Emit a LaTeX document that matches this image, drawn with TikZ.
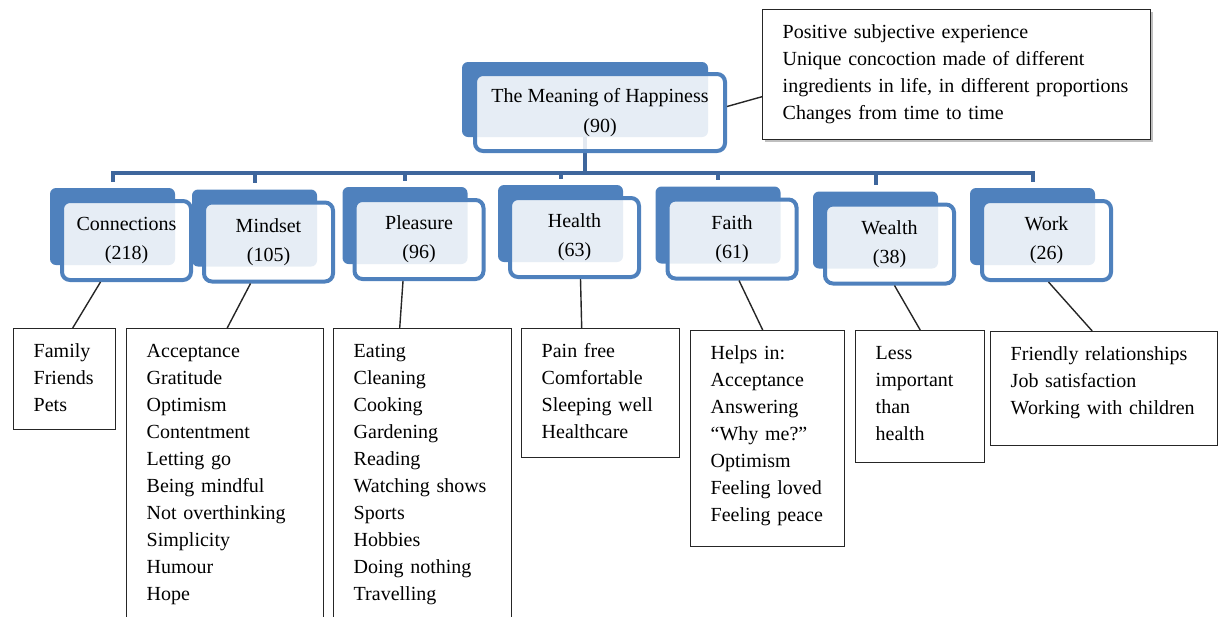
\documentclass[tikz,border=0pt]{standalone}
\usepackage{fontspec}
\setmainfont{Liberation Serif}
\usetikzlibrary{positioning,shadows}
\definecolor{ofblue}{RGB}{79,129,189}
\definecolor{busblue}{RGB}{62,102,156}
\hyphenpenalty=10000

\begin{document}
\begin{tikzpicture}[x=0.5pt,y=-0.5pt,
	backbox/.style={fill=ofblue, rounded corners=3pt, inner sep=0pt,
	minimum width=62.5pt, minimum height=38.5pt},
	frontbox/.style={draw=ofblue, line width=2pt, fill=white, fill opacity=0.86,
	text opacity=1, rounded corners=4pt, align=center, inner sep=0pt,
	minimum width=64.5pt, minimum height=39.5pt,
	font=\fontsize{10pt}{14.5pt}\selectfont},
	leafbox/.style={draw=black!85, line width=0.7pt, fill=white, align=left,
	anchor=north west, inner xsep=10pt, inner ysep=6pt, text height=8.5pt,
	font=\fontsize{10pt}{13.5pt}\selectfont},
	bus/.style={draw=busblue, line width=2pt},
	link/.style={draw=black!85, line width=0.7pt}
	]
	\useasboundingbox (0,0) rectangle (1218,616);
	\clip (0,0) rectangle (1218,616);
	
	% back plates
	\node[backbox, minimum width=123pt, minimum height=37.5pt] (rb) at (585,99.5) {};
	\node[backbox] (cb) at (112.5,226.5) {};
	\node[backbox] (mb) at (254.5,228) {};
	\node[backbox] (pb) at (405,225.5) {};
	\node[backbox] (hb) at (560.5,223.5) {};
	\node[backbox] (fb) at (718,225) {};
	\node[backbox] (wb) at (875.5,230) {};
	\node[backbox] (kb) at (1032.5,226.5) {};
	
	\draw[bus] (rb.south) -- ++(0,36) coordinate (hub);
	\foreach \b in {cb,mb,pb,hb,fb,wb,kb}
		\draw[bus, shorten >=3pt] (hub) -| (\b.north);
	
	% front boxes
	\node[frontbox, minimum width=125pt, minimum height=38.5pt,
	font=\fontsize{10pt}{15pt}\selectfont] (root) at ([shift={(15,13)}]rb.center)
	{The Meaning of Happiness\\(90)};
	\node[frontbox] (conn) at ([shift={(14,14)}]cb.center) {Connections\\(218)};
	\node[frontbox] (mind) at ([shift={(14,14)}]mb.center) {Mindset\\(105)};
	\node[frontbox] (pleas) at ([shift={(14,14)}]pb.center) {Pleasure\\(96)};
	\node[frontbox] (health) at ([shift={(14,14)}]hb.center) {Health\\(63)};
	\node[frontbox] (faith) at ([shift={(14,14)}]fb.center) {Faith\\(61)};
	\node[frontbox] (wealth) at ([shift={(14,14)}]wb.center) {Wealth\\(38)};
	\node[frontbox] (work) at ([shift={(14,14)}]kb.center) {Work\\(26)};
	
	% lists
	\node[leafbox, text width=174pt, text depth=44.5pt,
	drop shadow={shadow xshift=1pt, shadow yshift=-1pt, opacity=0.5}] (desc) at (762,9)
	{Positive subjective experience\\Unique concoction made of different\\ingredients in life, in different proportions\\Changes from time to time};
	\node[leafbox, text width=31pt, text depth=30pt] (family) at (13,328)
	{Family\\Friends\\Pets};
	\node[leafbox, text width=78.5pt, text depth=130.5pt] (mindlist) at (126,328)
	{Acceptance\\Gratitude\\Optimism\\Contentment\\Letting go\\Being mindful\\Not overthinking\\Simplicity\\Humour\\Hope};
	\node[leafbox, text width=69pt, text depth=130.5pt] (pleaslist) at (333,328)
	{Eating\\Cleaning\\Cooking\\Gardening\\Reading\\Watching shows\\Sports\\Hobbies\\Doing nothing\\Travelling};
	\node[leafbox, text width=59pt, text depth=44pt] (healthlist) at (521,328)
	{Pain free\\Comfortable\\Sleeping well\\Healthcare};
	\node[leafbox, text width=57pt, text depth=87.5pt] (faithlist) at (690,330)
	{Helps in:\\Acceptance\\Answering\\``Why me?''\\Optimism\\Feeling loved\\Feeling peace};
	\node[leafbox, text width=44.5pt, text depth=45.5pt] (wealthlist) at (855,330)
	{Less\\important\\than\\health};
	\node[leafbox, text width=93.5pt, text depth=36.5pt] (worklist) at (990,331)
	{Friendly relationships\\Job satisfaction\\Working with children};
	
	\draw[link] ([yshift=3pt]root.east) -- ([yshift=-11pt]desc.west);
	\draw[link] ([xshift=-13pt]conn.south) -- ([xshift=4pt]family.north);
	\draw[link] ([xshift=-9pt]mind.south) -- ([xshift=1pt]mindlist.north);
	\draw[link] ([xshift=-8pt]pleas.south) -- ([xshift=-11.5pt]pleaslist.north);
	\draw[link] ([xshift=3pt]health.south) -- ([xshift=-9.5pt]healthlist.north);
	\draw[link] ([xshift=3.5pt]faith.south) -- ([xshift=-2.5pt]faithlist.north);
	\draw[link] ([xshift=2.5pt]wealth.south) -- (wealthlist.north);
	\draw[link] ([xshift=1pt]work.south) -- ([xshift=-6pt]worklist.north);
\end{tikzpicture}
\end{document}
